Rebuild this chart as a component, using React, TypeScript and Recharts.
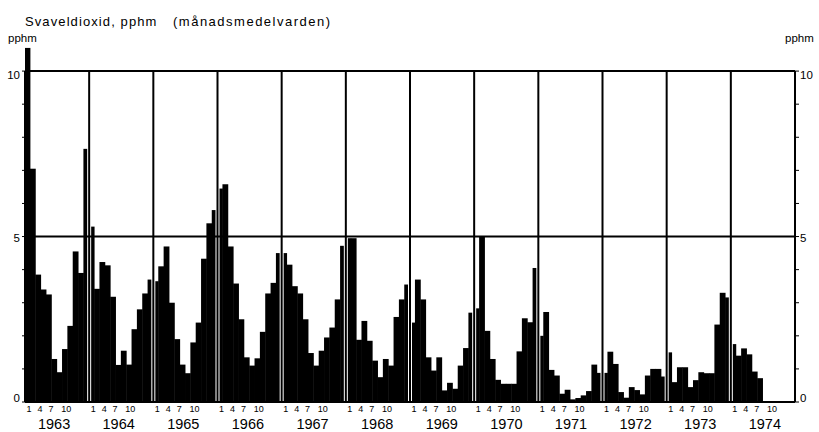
import { BarChart, Bar, XAxis, YAxis, ReferenceLine } from "recharts";

// monthly mean SO2, pphm
const years = [1963, 1964, 1965, 1966, 1967, 1968, 1969, 1970, 1971, 1972, 1973, 1974];
const so2_1963 = [10.7, 7.05, 3.85, 3.4, 3.25, 1.3, 0.9, 1.6, 2.3, 4.55, 3.9, 7.65];
const so2_1964 = [5.3, 3.42, 4.23, 4.13, 3.18, 1.12, 1.55, 1.13, 2.2, 2.8, 3.28, 3.7];
const so2_1965 = [3.65, 4.1, 4.7, 3.0, 1.9, 1.13, 0.87, 1.8, 2.4, 4.33, 5.4, 5.8];
const so2_1966 = [6.45, 6.58, 4.7, 3.58, 2.5, 1.35, 1.1, 1.32, 2.12, 3.28, 3.6, 4.5];
const so2_1967 = [4.5, 4.15, 3.5, 3.28, 2.5, 1.48, 1.1, 1.55, 1.95, 2.25, 3.1, 4.72];
const so2_1968 = [4.95, 4.95, 1.88, 2.45, 1.85, 1.25, 0.75, 1.3, 1.1, 2.57, 3.1, 3.55];
const so2_1969 = [2.4, 3.7, 3.1, 1.35, 0.95, 1.35, 0.35, 0.58, 0.4, 1.1, 1.63, 2.7];
const so2_1970 = [2.83, 5.0, 2.15, 1.3, 0.67, 0.55, 0.55, 0.55, 1.53, 2.53, 2.41, 4.05];
const so2_1971 = [2.0, 2.72, 0.97, 0.8, 0.25, 0.37, 0.08, 0.12, 0.2, 0.33, 1.13, 0.88];
const so2_1972 = [0.88, 1.52, 1.15, 0.3, 0.13, 0.45, 0.36, 0.23, 0.8, 1.0, 1.0, 0.77];
const so2_1973 = [1.5, 0.6, 1.05, 1.05, 0.45, 0.66, 0.9, 0.87, 0.87, 2.34, 3.3, 3.16];
const so2_1974 = [1.75, 1.4, 1.62, 1.44, 0.92, 0.72, null, null, null, null, null, null];

const monthLabels = ["1", "4", "7", "10"];
const yTicks = [0, 1, 2, 3, 4, 5, 6, 7, 8, 9, 10];

const series = [
  so2_1963, so2_1964, so2_1965, so2_1966, so2_1967, so2_1968,
  so2_1969, so2_1970, so2_1971, so2_1972, so2_1973, so2_1974,
];

const data = series.flatMap((vals, yi) =>
  vals.map((v, m) => ({ t: yi * 12 + m + 0.5, v }))
);

// where the printed month labels sit inside each year (in months)
const monthOffsets = [0.75, 2.8, 4.85, 7.7];
const monthTickPos = years.flatMap((_, yi) => monthOffsets.map((o) => yi * 12 + o));
const yearTickPos = years.map((_, yi) => yi * 12 + 5.4);

const FONT = "'Liberation Sans', Arial, sans-serif";
const N = years.length * 12;

// solid block bars, widened a touch so neighbours touch without seams
const BlockBar = (props: any) => {
  const { x, y, width, height } = props;
  if (!height || height <= 0) return null;
  return <rect x={x - 0.4} y={y} width={width + 0.8} height={height} fill="#000" />;
};

const YTick = (props: any) => {
  const { x, y, payload, textAnchor } = props;
  const v = payload.value;
  if (v % 5 !== 0) return null;
  const dy = v === 10 ? 8 : v === 0 ? 0 : 5;
  return (
    <text x={x} y={y + dy} textAnchor={textAnchor} fontSize={11.5} fill="#000" fontFamily={FONT}>
      {v}
    </text>
  );
};

export default function App() {
  return (
    <div style={{ position: "absolute", left: 0, top: 0, width: 819, height: 432, background: "#fff" }}>
      <BarChart
        width={819}
        height={432}
        data={data}
        margin={{ top: 38, right: 0, bottom: 0, left: 0 }}
        barCategoryGap={0}
        barGap={0}
        style={{ fontFamily: FONT }}
      >
        <XAxis
          xAxisId="m"
          dataKey="t"
          type="number"
          domain={[0, N]}
          ticks={monthTickPos}
          interval={0}
          tickFormatter={(v: number) => monthLabels[monthTickPos.indexOf(v) % 4] ?? ""}
          height={12}
          tickSize={2}
          tickLine={false}
          axisLine={{ stroke: "#000", strokeWidth: 2 }}
          tick={{ fontSize: 9, fill: "#000" }}
          allowDataOverflow
        />
        <XAxis
          xAxisId="y"
          type="number"
          domain={[0, N]}
          ticks={yearTickPos}
          interval={0}
          tickFormatter={(v: number) => String(years[yearTickPos.indexOf(v)] ?? "")}
          height={18}
          tickSize={3}
          tickLine={false}
          axisLine={false}
          tick={{ fontSize: 14.5, fill: "#000" }}
          allowDataOverflow
        />
        <YAxis
          yAxisId="l"
          type="number"
          width={25}
          domain={[0, 11]}
          ticks={yTicks}
          interval={0}
          tickSize={3}
          tickMargin={2}
          axisLine={false}
          tickLine={{ stroke: "#000" }}
          tick={<YTick />}
          allowDataOverflow
        />
        <YAxis
          yAxisId="r"
          orientation="right"
          type="number"
          width={24}
          domain={[0, 11]}
          ticks={yTicks}
          interval={0}
          tickSize={4}
          tickMargin={1}
          axisLine={false}
          tickLine={{ stroke: "#000" }}
          tick={<YTick />}
          allowDataOverflow
        />
        <Bar
          xAxisId="m"
          yAxisId="l"
          dataKey="v"
          fill="#000"
          shape={<BlockBar />}
          isAnimationActive={false}
        />
        {years.slice(1).map((_, i) => (
          <ReferenceLine
            key={"w" + i}
            xAxisId="m"
            yAxisId="l"
            segment={[{ x: (i + 1) * 12, y: 0 }, { x: (i + 1) * 12, y: 10 }]}
            stroke="#fff"
            strokeWidth={4}
          />
        ))}
        {years.concat([0]).map((_, i) => (
          <ReferenceLine
            key={"v" + i}
            xAxisId="m"
            yAxisId="l"
            segment={[{ x: i * 12, y: 0 }, { x: i * 12, y: 10 }]}
            stroke="#000"
            strokeWidth={2}
          />
        ))}
        {[5, 10].map((y) => (
          <ReferenceLine
            key={"h" + y}
            xAxisId="m"
            yAxisId="l"
            segment={[{ x: 0, y }, { x: N, y }]}
            stroke="#000"
            strokeWidth={2}
          />
        ))}
      </BarChart>
      <svg
        width={819}
        height={432}
        style={{ position: "absolute", left: 0, top: 0, pointerEvents: "none" }}
      >
        <g fontFamily={FONT} fill="#000">
          <text x={25} y={25.5} fontSize={13} letterSpacing={1.1}>Svaveldioxid, pphm</text>
          <text x={173} y={25.5} fontSize={13} letterSpacing={1.5}>(månadsmedelvarden)</text>
          <text x={8} y={42} fontSize={11.5}>pphm</text>
          <text x={785} y={42} fontSize={11.5}>pphm</text>
        </g>
      </svg>
    </div>
  );
}
